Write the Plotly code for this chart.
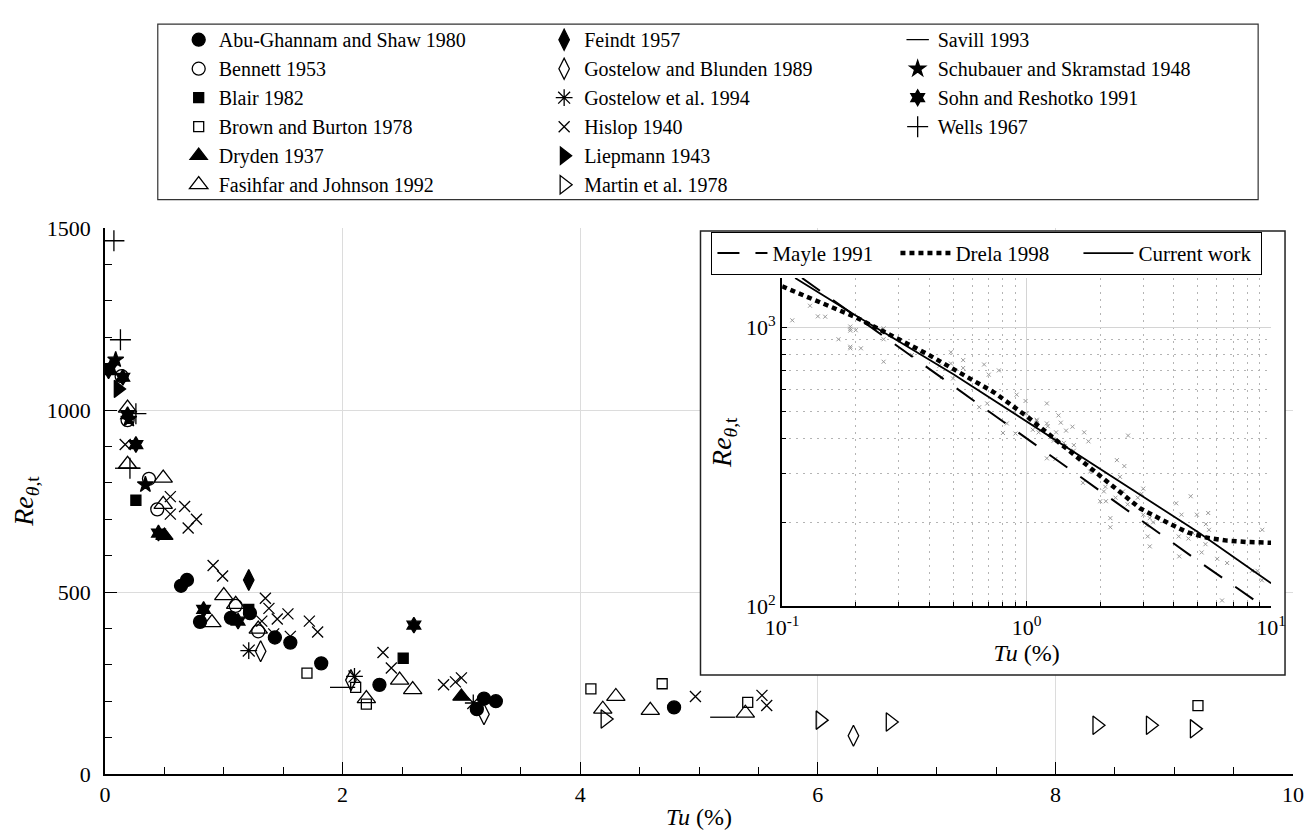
import math
import plotly.graph_objects as go

FONT = "Liberation Serif, Times New Roman, Times, serif"

# ---------------- data: Tu (%) and Re_theta,t ----------------
abu_tu = [0.64, 0.69, 0.80, 1.06, 1.22, 1.43, 1.56, 1.82, 2.31, 3.13, 3.19, 3.29, 4.79]
abu_re = [517, 533, 418, 429, 442, 375, 361, 304, 245, 178, 207, 200, 183]

bennett_tu = [0.14, 0.19, 0.37, 0.44, 1.10, 1.29]
bennett_re = [1093, 972, 811, 727, 462, 392]

blair_tu = [0.26, 1.21, 2.51]
blair_re = [752, 452, 318]

brown_tu = [1.70, 2.11, 2.20, 4.09, 4.69, 5.41, 9.20]
brown_re = [277, 238, 192, 234, 248, 197, 188]

dryden_tu = [0.50, 3.00]
dryden_re = [655, 213]

fasihfar_tu = [0.19, 0.19, 0.49, 0.49, 0.90, 1.00, 1.10, 1.29, 2.20, 2.48, 2.59, 4.19, 4.30, 4.59, 5.39]
fasihfar_re = [1005, 851, 813, 741, 416, 490, 466, 398, 207, 258, 232, 178, 213, 175, 167]

feindt_tu = [1.21]
feindt_re = [533]

gb_tu = [1.31, 2.07, 3.19, 6.30]
gb_re = [337, 258, 164, 105]

gostelow_tu = [1.21, 2.10, 3.10]
gostelow_re = [339, 268, 195]

hislop_tu = [0.17, 0.55, 0.55, 0.67, 0.70, 0.77, 0.91, 0.99, 1.32, 1.35, 1.38, 1.42, 1.45,
             1.54, 1.56, 1.72, 1.79, 2.34, 2.41, 2.85, 2.95, 3.00, 4.97, 5.53, 5.57]
hislop_re = [905, 762, 714, 735, 676, 700, 573, 544, 420, 483, 455, 385, 426,
             440, 378, 420, 390, 334, 291, 245, 253, 264, 213, 216, 188]

liepmann_tu = [0.11]
liepmann_re = [1058]

martin_tu = [4.21, 6.02, 6.61, 8.35, 8.80, 9.17]
martin_re = [151, 148, 143, 134, 134, 124]

savill_tu = [0.19, 2.00, 5.20]
savill_re = [840, 238, 156]

schubauer_tu = [0.05, 0.09, 0.20, 0.34]
schubauer_re = [1120, 1138, 975, 795]

sohn_tu = [0.03, 0.15, 0.19, 0.26, 0.45, 0.83, 1.12, 2.60]
sohn_re = [1108, 1090, 987, 905, 662, 452, 420, 409]

wells_tu = [0.075, 0.13, 0.26, 0.21]
wells_re = [1465, 1193, 990, 840]

# correlations shown in the inset
mayle_tu = [0.1206, 0.2, 0.5, 1.0, 2.0, 5.0, 9.3]
mayle_re = [1500, 1094, 617, 400, 260, 146, 100]

drela_tu = [0.1, 0.2, 0.39, 0.74, 1.0, 1.5, 2.3, 2.92, 3.79, 4.56, 5.49, 6.61, 8.0, 10.0]
drela_re = [1400, 1085, 804, 582, 480, 360, 267, 224, 199, 184, 176, 172, 170, 169]

current_tu = [0.113, 0.2, 0.5, 1.0, 2.0, 5.0, 10.0]
current_re = [1500, 1100, 680, 460, 310, 185, 121]

# ---------------- series definitions ----------------
datasets = [
    # name, tu, re, symbol, size, legend column
    ("Abu-Ghannam and Shaw 1980", abu_tu, abu_re, "circle", 13, "legend"),
    ("Bennett 1953", bennett_tu, bennett_re, "circle-open", 13, "legend"),
    ("Blair 1982", blair_tu, blair_re, "square", 10, "legend"),
    ("Brown and Burton 1978", brown_tu, brown_re, "square-open", 10, "legend"),
    ("Dryden 1937", dryden_tu, dryden_re, "triangle-up", 15, "legend"),
    ("Fasihfar and Johnson 1992", fasihfar_tu, fasihfar_re, "triangle-up-open", 16, "legend"),
    ("Feindt 1957", feindt_tu, feindt_re, "diamond-tall", 15, "legend2"),
    ("Gostelow and Blunden 1989", gb_tu, gb_re, "diamond-tall-open", 15, "legend2"),
    ("Gostelow et al. 1994", gostelow_tu, gostelow_re, "asterisk-open", 14, "legend2"),
    ("Hislop 1940", hislop_tu, hislop_re, "x-thin-open", 11, "legend2"),
    ("Liepmann 1943", liepmann_tu, liepmann_re, "triangle-right", 15, "legend2"),
    ("Martin et al. 1978", martin_tu, martin_re, "triangle-right-open", 16, "legend2"),
    ("Savill 1993", savill_tu, savill_re, "line-ew-open", 18, "legend3"),
    ("Schubauer and Skramstad 1948", schubauer_tu, schubauer_re, "star", 12, "legend3"),
    ("Sohn and Reshotko 1991", sohn_tu, sohn_re, "hexagram", 12, "legend3"),
    ("Wells 1967", wells_tu, wells_re, "cross-thin-open", 15, "legend3"),
]

fig = go.Figure()

for name, tu, re, sym, size, leg in datasets:
    fig.add_trace(go.Scatter(
        x=tu, y=re, mode="markers", name=name, legend=leg,
        marker=dict(symbol=sym, size=size, color="black",
                    line=dict(color="black", width=1.3)),
        xaxis="x", yaxis="y",
    ))

# grey copy of all data in the log-log inset
all_tu = [v for d in datasets for v in d[1]]
all_re = [v for d in datasets for v in d[2]]
fig.add_trace(go.Scatter(
    x=all_tu, y=all_re, mode="markers", showlegend=False,
    marker=dict(symbol="x-thin-open", size=4, color="#999999", line=dict(color="#999999", width=1)),
    xaxis="x2", yaxis="y2",
))

fig.add_trace(go.Scatter(x=mayle_tu, y=mayle_re, mode="lines", name="Mayle 1991", legend="legend4",
                         line=dict(color="black", width=2, dash="22px,16px"), xaxis="x2", yaxis="y2"))
fig.add_trace(go.Scatter(x=drela_tu, y=drela_re, mode="lines", name="Drela 1998", legend="legend4",
                         line=dict(color="black", width=4.5, dash="5px,4px"), xaxis="x2", yaxis="y2"))
fig.add_trace(go.Scatter(x=current_tu, y=current_re, mode="lines", name="Current work", legend="legend4",
                         line=dict(color="black", width=1.8), xaxis="x2", yaxis="y2"))

# ---------------- layout ----------------
W, H = 1312, 830
L, R, T, B = 97, 22, 209, 64
pw, ph = W - L - R, H - T - B


def px_x(p):
    return (p - L) / pw


def px_y(p):
    return (H - B - p) / ph


minor_x2 = [m * 10.0 ** e for e in (-1, 0) for m in range(2, 10)]
minor_y2 = [m * 10.0 ** e for e in (2,) for m in range(2, 10)]

legend_common = dict(font=dict(family=FONT, size=20, color="black"), bgcolor="rgba(0,0,0,0)",
                     borderwidth=0, xanchor="left", yanchor="top", orientation="v",
                     tracegroupgap=0)

re_title = "<i>Re</i><sub><i>θ</i>,t</sub>"
tu_title = "<i>Tu</i> (%)"

fig.update_layout(
    width=W, height=H, autosize=False,
    margin=dict(l=L, r=R, t=T, b=B, pad=0),
    paper_bgcolor="white", plot_bgcolor="white",
    font=dict(family=FONT, size=22, color="black"),
    xaxis=dict(range=[0, 10], dtick=2, tick0=0, showgrid=True, gridcolor="#dcdcdc", gridwidth=1,
               zeroline=False, showline=True, linecolor="black", linewidth=1.5,
               ticks="inside", ticklen=12, tickwidth=1.3, tickcolor="black",
               minor=dict(dtick=0.5, ticks="inside", ticklen=7, tickwidth=1.3, tickcolor="black", showgrid=False),
               tickfont=dict(family=FONT, size=22),
               title=dict(text=tu_title, font=dict(family=FONT, size=24), standoff=2)),
    yaxis=dict(range=[0, 1500], dtick=500, tick0=0, showgrid=True, gridcolor="#dcdcdc", gridwidth=1,
               zeroline=False, showline=True, linecolor="black", linewidth=1.5,
               ticks="inside", ticklen=12, tickwidth=1.3, tickcolor="black", ticklabelstandoff=8,
               minor=dict(dtick=100, ticks="inside", ticklen=7, tickwidth=1.3, tickcolor="black", showgrid=False),
               tickfont=dict(family=FONT, size=22),
               title=dict(text=re_title, font=dict(family=FONT, size=28), standoff=6)),
    xaxis2=dict(type="log", range=[-1, 1], domain=[px_x(777), px_x(1268)], anchor="y2",
                tickvals=[0.1, 1, 10], ticktext=["10<sup>-1</sup>", "10<sup>0</sup>", "10<sup>1</sup>"],
                showgrid=True, gridcolor="#d4d4d4", gridwidth=1, zeroline=False,
                showline=True, linecolor="black", linewidth=2,
                ticks="inside", ticklen=5, tickcolor="black",
                minor=dict(tickvals=minor_x2, ticks="inside", ticklen=4, tickcolor="black",
                           showgrid=True, gridcolor="#b4b4b4", griddash="2px,5px", gridwidth=1),
                tickfont=dict(family=FONT, size=22),
                title=dict(text=tu_title, font=dict(family=FONT, size=24), standoff=0)),
    yaxis2=dict(type="log", range=[2, math.log10(1500)], domain=[px_y(595), px_y(260)], anchor="x2",
                tickvals=[100, 1000], ticktext=["10<sup>2</sup>", "10<sup>3</sup>"],
                showgrid=True, gridcolor="#d4d4d4", gridwidth=1, zeroline=False,
                showline=True, linecolor="black", linewidth=2,
                ticks="inside", ticklen=5, tickcolor="black",
                minor=dict(tickvals=minor_y2, ticks="inside", ticklen=4, tickcolor="black",
                           showgrid=True, gridcolor="#b4b4b4", griddash="2px,5px", gridwidth=1),
                tickfont=dict(family=FONT, size=22),
                title=dict(text=re_title, font=dict(family=FONT, size=28), standoff=6)),
    legend=dict(x=px_x(171), y=px_y(-3), **legend_common),
    legend2=dict(x=px_x(538), y=px_y(-3), **legend_common),
    legend3=dict(x=px_x(893), y=px_y(-3), **legend_common),
    legend4=dict(x=px_x(706), y=px_y(213), xanchor="left", yanchor="top", orientation="h",
                 bgcolor="white", bordercolor="black", borderwidth=1, itemwidth=50,
                 font=dict(family=FONT, size=21, color="black"), entrywidth=118),
    shapes=[
        # frame around the three legend columns
        dict(type="rect", xref="paper", yref="paper",
             x0=px_x(150), x1=px_x(1255), y0=px_y(180), y1=px_y(1),
             line=dict(color="#333333", width=1.2), fillcolor="rgba(0,0,0,0)", layer="above"),
        # white frame of the inset (hides main grid lines)
        dict(type="rect", xref="x", yref="y",
             x0=(695 - L) / pw * 10, x1=(1282 - L) / pw * 10,
             y0=(H - B - 665) / ph * 1500, y1=(H - B - 212) / ph * 1500,
             line=dict(color="#222222", width=1.5), fillcolor="white", layer="between"),
    ],
)

fig.write_html("out.html")
